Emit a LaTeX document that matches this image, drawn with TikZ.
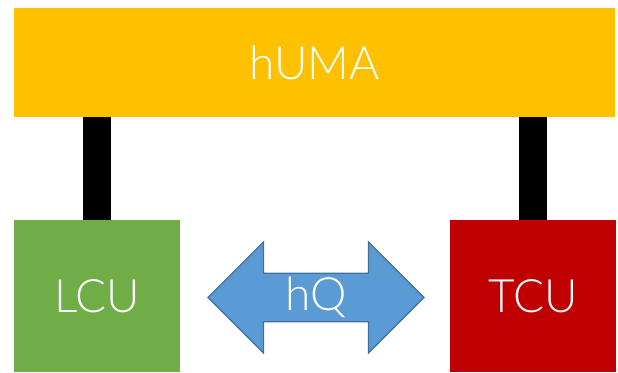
\documentclass[tikz,border=0pt]{standalone}
\usepackage{fontspec}
\setmainfont{Lato}[UprightFont=* Light]
\usepackage{xcolor}
\usetikzlibrary{shapes.arrows}
\usetikzlibrary{positioning}
\usetikzlibrary{calc}

\definecolor{humacol}{HTML}{FFC000}
\definecolor{lcucol}{HTML}{70AD47}
\definecolor{tcucol}{HTML}{C00000}
\definecolor{hqcol}{HTML}{5B9BD5}
\definecolor{hqedge}{HTML}{41719C}

\begin{document}
\begin{tikzpicture} [
       x=1pt, y=1pt,
       block/.style={rectangle, inner sep=0pt, text=white,
               font=\fontsize{46}{50}\selectfont},
       unit/.style={block, minimum width=166pt, minimum height=152pt},
       queue/.style={double arrow, draw=hqedge, line width=1.2pt, fill=hqcol,
               text=white, font=\fontsize{46}{50}\selectfont,
               minimum height=216pt, minimum width=111pt,
               double arrow head extend=27pt, inner sep=0pt},
       link/.style={draw, line width=28pt},
       ]
       \useasboundingbox (0,0) rectangle (618,-372);
       \node (huma) [block, fill=humacol, minimum width=601pt, minimum height=109pt] at (314.5,-62.5) {hUMA};
       \node (lcu) [unit, fill=lcucol] at (97,-296) {LCU};
       \node (tcu) [unit, fill=tcucol] at (533,-296) {TCU};
       \node (hq) [queue] at (316,-297.5) {hQ};
        \begin{scope}[every path/.style=link]
        \path (lcu.north) -- (lcu.north |- huma.south);
        \path (tcu.north) -- (tcu.north |- huma.south);
\end{scope}
\end{tikzpicture}
\end{document}
